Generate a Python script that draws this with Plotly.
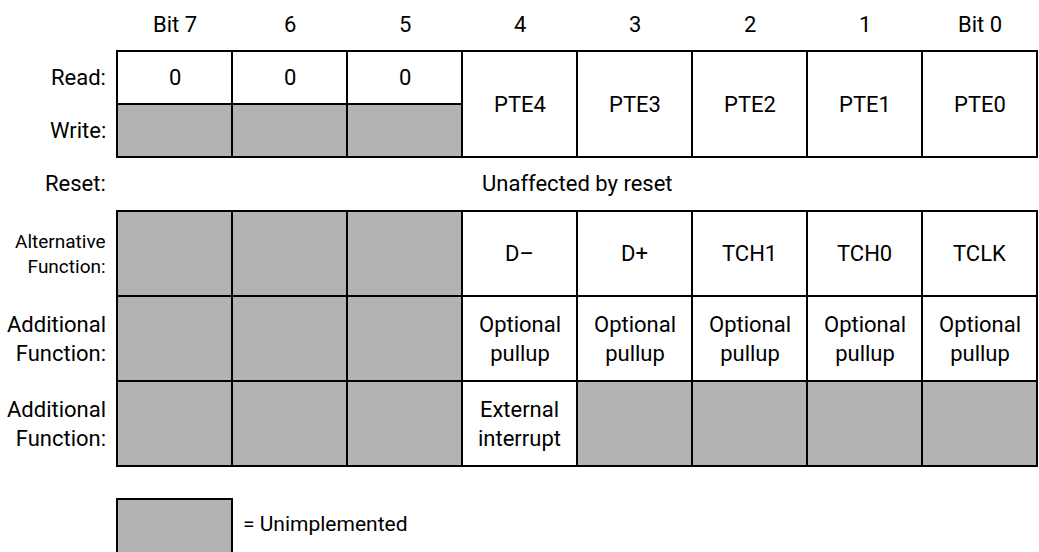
import plotly.graph_objects as go

# ---------------- data ----------------
bit_labels = ["Bit 7", "6", "5", "4", "3", "2", "1", "Bit 0"]
row_labels = ["Read:", "Write:", "Reset:", "Alternative<br>Function:",
              "Additional<br>Function:", "Additional<br>Function:"]
read_values = ["0", "0", "0", "PTE4", "PTE3", "PTE2", "PTE1", "PTE0"]
write_values = [None, None, None, "PTE4", "PTE3", "PTE2", "PTE1", "PTE0"]
reset_text = "Unaffected by reset"
alt_function = [None, None, None, "D\u2013", "D+", "TCH1", "TCH0", "TCLK"]
additional_function_1 = [None, None, None, "Optional<br>pullup", "Optional<br>pullup",
                         "Optional<br>pullup", "Optional<br>pullup", "Optional<br>pullup"]
additional_function_2 = [None, None, None, "External<br>interrupt", None, None, None, None]
legend_label = "= Unimplemented"

# ---------------- layout constants ----------------
W, H = 1039, 552
X_LEFT, COL_W = 117, 115
LABEL_X = 108
HEADER_Y = 24
TOP_EDGES = [51, 104, 157]          # read / write rows
RESET_Y = 183
LOW_EDGES = [211, 296, 381, 466]    # three function rows
LEGEND_BOX = (499, 558)
GRAY = "#b3b3b3"
LINE_W = 2
FONT = "Roboto, Liberation Sans, sans-serif"
FS = 22

fig = go.Figure()
shapes, annots = [], []


def col_x(i):
    return X_LEFT + COL_W * i


def cell(i, y0, y1, text, size=FS):
    unimpl = text is None
    shapes.append(dict(type="rect", xref="x", yref="y", x0=col_x(i), x1=col_x(i + 1),
                       y0=y0, y1=y1, fillcolor=GRAY if unimpl else "white",
                       line=dict(color="black", width=LINE_W), layer="above"))
    if not unimpl:
        annots.append(dict(x=(col_x(i) + col_x(i + 1)) / 2, y=(y0 + y1) / 2, text=text,
                           xref="x", yref="y", showarrow=False, xanchor="center",
                           yanchor="middle", font=dict(family=FONT, size=size, color="black")))


def label(text, y, size=FS):
    annots.append(dict(x=LABEL_X, y=y, text=text, xref="x", yref="y", showarrow=False,
                       xanchor="right", yanchor="middle", align="right",
                       font=dict(family=FONT, size=size, color="black")))


# header
for i, b in enumerate(bit_labels):
    annots.append(dict(x=(col_x(i) + col_x(i + 1)) / 2, y=HEADER_Y, text=b, xref="x", yref="y",
                       showarrow=False, xanchor="center", yanchor="middle",
                       font=dict(family=FONT, size=FS, color="black")))

# read / write
for i, (r, w) in enumerate(zip(read_values, write_values)):
    if r == w:
        cell(i, TOP_EDGES[0], TOP_EDGES[2], r)
    else:
        cell(i, TOP_EDGES[0], TOP_EDGES[1], r)
        cell(i, TOP_EDGES[1], TOP_EDGES[2], w)
label(row_labels[0], (TOP_EDGES[0] + TOP_EDGES[1]) / 2)
label(row_labels[1], (TOP_EDGES[1] + TOP_EDGES[2]) / 2)

# reset
label(row_labels[2], RESET_Y)
annots.append(dict(x=(col_x(0) + col_x(len(bit_labels))) / 2, y=RESET_Y, text=reset_text,
                   xref="x", yref="y", showarrow=False, xanchor="center", yanchor="middle",
                   font=dict(family=FONT, size=FS, color="black")))

# function rows
for r, vals in enumerate([alt_function, additional_function_1, additional_function_2]):
    y0, y1 = LOW_EDGES[r], LOW_EDGES[r + 1]
    for i, v in enumerate(vals):
        cell(i, y0, y1, v)
    label(row_labels[3 + r], (y0 + y1) / 2, size=19 if r == 0 else FS)

# legend
shapes.append(dict(type="rect", xref="x", yref="y", x0=col_x(0), x1=col_x(1),
                   y0=LEGEND_BOX[0], y1=LEGEND_BOX[1], fillcolor=GRAY,
                   line=dict(color="black", width=LINE_W), layer="above"))
annots.append(dict(x=col_x(1) + 9, y=(LEGEND_BOX[0] + 552) / 2 - 2, text=legend_label,
                   xref="x", yref="y", showarrow=False, xanchor="left", yanchor="middle",
                   font=dict(family=FONT, size=FS - 1, color="black")))

fig.update_layout(
    width=W, height=H, margin=dict(l=0, r=0, t=0, b=0),
    paper_bgcolor="white", plot_bgcolor="white", showlegend=False,
    xaxis=dict(range=[0, W], visible=False, fixedrange=True),
    yaxis=dict(range=[H, 0], visible=False, fixedrange=True),
    shapes=shapes, annotations=annots,
)
fig.write_html("out.html", config={"displayModeBar": False},
               post_script="document.body.style.margin='0';")
